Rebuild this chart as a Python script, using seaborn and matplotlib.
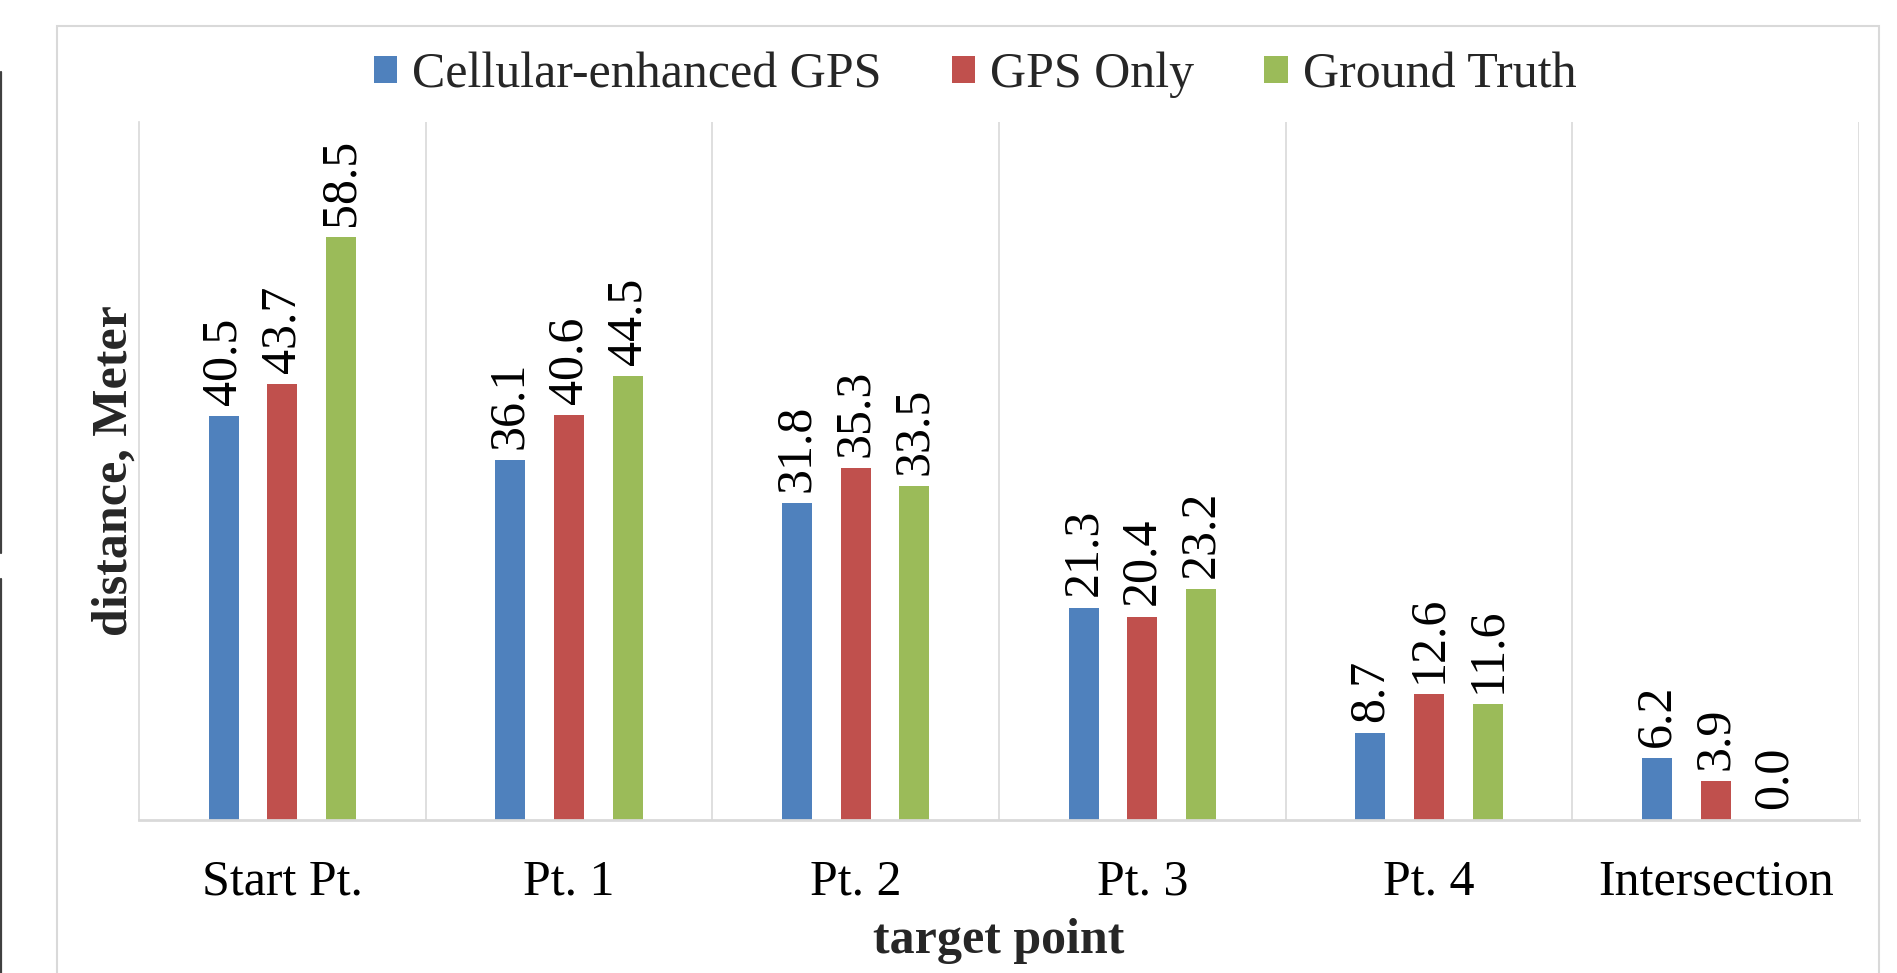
import matplotlib
matplotlib.use("Agg")
import matplotlib.pyplot as plt
from matplotlib.lines import Line2D
from matplotlib.patches import Rectangle
import pandas as pd
import seaborn as sns

# chart values
points = ["Start Pt.", "Pt. 1", "Pt. 2", "Pt. 3", "Pt. 4", "Intersection"]
series_names = ["Cellular-enhanced GPS", "GPS Only", "Ground Truth"]
cellular_gps = [40.5, 36.1, 31.8, 21.3, 8.7, 6.2]
gps_only = [43.7, 40.6, 35.3, 20.4, 12.6, 3.9]
ground_truth = [58.5, 44.5, 33.5, 23.2, 11.6, 0.0]
colors = ["#4F81BD", "#C0504D", "#9BBB59"]

records = []
for name, vals in zip(series_names, [cellular_gps, gps_only, ground_truth]):
    for p, v in zip(points, vals):
        records.append({"point": p, "series": name, "distance": v})
df = pd.DataFrame.from_records(records)

sns.set_theme(style="white")
serif = ["Liberation Serif", "DejaVu Serif"]
plt.rcParams["font.family"] = serif

W, H = 1897, 973
fig = plt.figure(figsize=(W / 100, H / 100), dpi=100)
ax = fig.add_axes([139 / W, 1 - 820 / H, (1859 - 139) / W, (820 - 122) / H])

sns.barplot(data=df, x="point", y="distance", hue="series", order=points,
            hue_order=series_names, palette=colors, errorbar=None,
            width=0.615, gap=0.49, linewidth=0, saturation=1, ax=ax)

for cont in ax.containers:
    ax.bar_label(cont, fmt="%.1f", rotation=90, padding=8, fontsize=36,
                 color="black", family=serif)

ax.set_xlim(-0.5, 5.5)
ax.set_ylim(0, 70)
ax.set_yticks([])
ax.tick_params(axis="x", length=0, pad=28, labelsize=36, colors="black")

grid_color = "#d9d9d9"
for xb in [0.5, 1.5, 2.5, 3.5, 4.5, 5.5]:
    ax.axvline(xb, color=grid_color, lw=1.2, zorder=0)
for side in ["top", "right"]:
    ax.spines[side].set_visible(False)
ax.spines["left"].set_color(grid_color)
ax.spines["left"].set_linewidth(1.2)
ax.spines["bottom"].set_color(grid_color)
ax.spines["bottom"].set_linewidth(2)

ax.set_xlabel("target point", fontsize=36, fontweight="bold", labelpad=9)
ax.set_ylabel("distance, Meter", fontsize=36, fontweight="bold", labelpad=1)

handles, labels = ax.get_legend_handles_labels()
ax.get_legend().remove()
fig.legend(handles, labels, loc="center", bbox_to_anchor=(975 / W, 1 - 75 / H),
           ncol=3, frameon=False, fontsize=36, handlelength=0.47,
           handleheight=0.48, handletextpad=0.3, columnspacing=1.4)

# chart frame and left page edge
fig.patches.append(Rectangle((57 / W, -0.05), (1879 - 57) / W, (H - 26) / H + 0.05,
                             transform=fig.transFigure, fill=False,
                             edgecolor=grid_color, lw=1.5))
fig.lines.append(Line2D([1 / W, 1 / W], [1 - 72 / H, 1 - 553 / H],
                        transform=fig.transFigure, color="#404040", lw=1.6))
fig.lines.append(Line2D([1 / W, 1 / W], [1 - 579 / H, 0],
                        transform=fig.transFigure, color="#404040", lw=1.6))

fig.savefig("out.png", dpi=100)
